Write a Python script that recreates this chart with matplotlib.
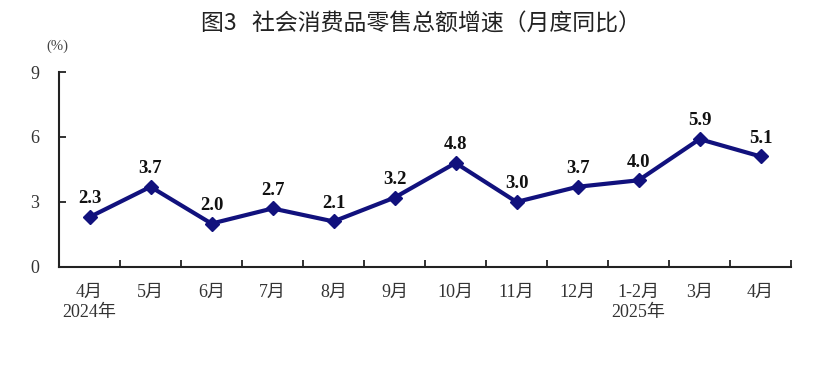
import numpy as np
import matplotlib.pyplot as plt
from matplotlib.ticker import FixedLocator

# data
months = ['4月\n2024年', '5月', '6月', '7月', '8月', '9月', '10月', '11月', '12月', '1-2月\n2025年', '3月', '4月']
growth = [2.3, 3.7, 2.0, 2.7, 2.1, 3.2, 4.8, 3.0, 3.7, 4.0, 5.9, 5.1]
yticks = [0, 3, 6, 9]

tick_font = ['Liberation Serif', 'Noto Sans CJK SC']

fig = plt.figure(figsize=(8.31, 3.77), dpi=100)
ax = fig.add_axes([0.071, 0.292, 0.881, 0.517])

x = np.arange(len(months))
ax.plot(x, growth, color='#11117d', linewidth=3.0, marker='D', markersize=7.5, zorder=3)

for xi, v in zip(x, growth):
    ax.text(xi, v + 0.45, '%.1f' % v, ha='center', va='bottom', fontsize=13.5,
            fontweight='bold', family=['Liberation Serif'], color='#111111')

ax.set_xlim(-0.5, len(months) - 0.5)
ax.set_ylim(0, 9)
ax.set_yticks(yticks)
ax.set_yticklabels([str(t) for t in yticks], family=tick_font, fontsize=13, color='#333333')
ax.set_xticks(x)
ax.set_xticklabels(months, family=tick_font, fontsize=13, color='#333333', linespacing=1.25)
ax.xaxis.set_minor_locator(FixedLocator(np.arange(-0.5, len(months), 1.0)))

ax.tick_params(axis='x', which='major', length=0, pad=12)
ax.tick_params(axis='x', which='minor', direction='in', length=5, width=1.3, color='#222222')
ax.tick_params(axis='y', direction='in', length=5, width=1.3, color='#222222', pad=14)

for s in ['top', 'right']:
    ax.spines[s].set_visible(False)
for s in ['left', 'bottom']:
    ax.spines[s].set_linewidth(1.5)
    ax.spines[s].set_color('#222222')

fig.text(0.069, 0.877, '(%)', ha='center', va='center', fontsize=10.5,
         family=tick_font, color='#444444')
fig.text(0.507, 0.935, '图3   社会消费品零售总额增速（月度同比）', ha='center', va='center',
         fontsize=16.5, fontweight='medium', family=['Noto Sans CJK SC'], color='#222222')

fig.savefig('out.png', dpi=100)
